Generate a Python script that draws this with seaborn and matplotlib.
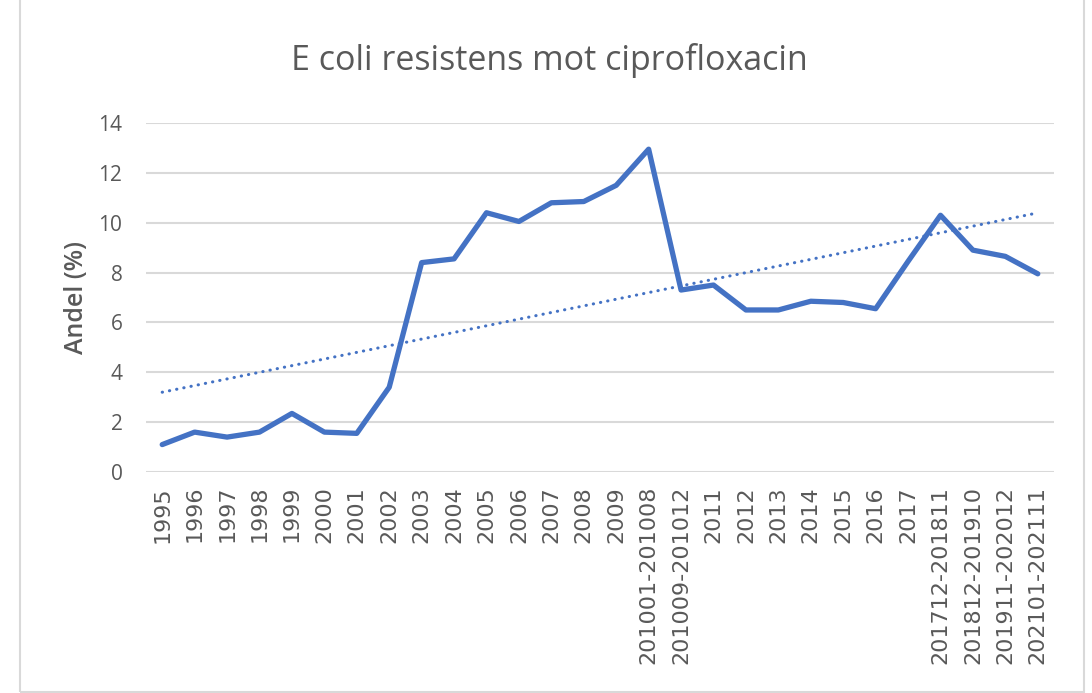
import numpy as np
import pandas as pd
import seaborn as sns
import matplotlib.pyplot as plt
from matplotlib.patches import Rectangle

periods = ['1995', '1996', '1997', '1998', '1999', '2000', '2001', '2002',
           '2003', '2004', '2005', '2006', '2007', '2008', '2009',
           '201001-201008', '201009-201012', '2011', '2012', '2013', '2014',
           '2015', '2016', '2017', '201712-201811', '201812-201910',
           '201911-202012', '202101-202111']
andel = [1.1, 1.6, 1.4, 1.6, 2.35, 1.6, 1.55, 3.4,
         8.4, 8.55, 10.4, 10.05, 10.8, 10.85, 11.5,
         12.95, 7.3, 7.5, 6.5, 6.5, 6.85, 6.8, 6.55, 8.45,
         10.3, 8.9, 8.65, 7.95]

blue = '#4472C4'
grey = '#595959'

sns.set_style('white')
plt.rcParams['font.family'] = ['Open Sans', 'DejaVu Sans']

df = pd.DataFrame({'idx': np.arange(len(periods)), 'andel': andel})

fig = plt.figure(figsize=(10.92, 6.93), dpi=100)
ax = fig.add_axes([0.1337, 0.3189, 0.8315, 0.5036])

sns.lineplot(data=df, x='idx', y='andel', color=blue, linewidth=3.8,
             solid_joinstyle='round', solid_capstyle='round', ax=ax, zorder=3)
sns.regplot(data=df, x='idx', y='andel', scatter=False, ci=None, ax=ax,
            line_kws={'color': blue, 'linewidth': 2.2, 'linestyle': (0, (0.1, 2.3)),
                      'dash_capstyle': 'round', 'zorder': 2})

ax.set_xlim(-0.5, len(periods) - 0.5)
ax.set_ylim(0, 14)
ax.set_yticks(range(0, 15, 2))
ax.set_xticks(df['idx'])
ax.set_xticklabels(periods, rotation=90)
ax.tick_params(axis='x', length=0, labelsize=16, labelfontfamily='DejaVu Sans',
               colors=grey, pad=10)
ax.tick_params(axis='y', length=0, labelsize=15, colors=grey, pad=17)
ax.yaxis.grid(True, color='#D9D9D9', linewidth=1.5)
ax.set_axisbelow(True)
for s in ax.spines.values():
    s.set_visible(False)

ax.set_xlabel('')
ax.set_ylabel('Andel (%)', fontsize=18, fontweight='semibold', color=grey, labelpad=7)
fig.text(0.503, 0.912, 'E coli resistens mot ciprofloxacin', fontsize=24.5,
         color=grey, ha='center', va='center')

fig.patches.append(Rectangle((20 / 1092, 0.002), 1064 / 1092, 1.1,
                             transform=fig.transFigure, fill=False,
                             edgecolor='#D9D9D9', linewidth=1.5))

fig.savefig('out.png', dpi=100)
